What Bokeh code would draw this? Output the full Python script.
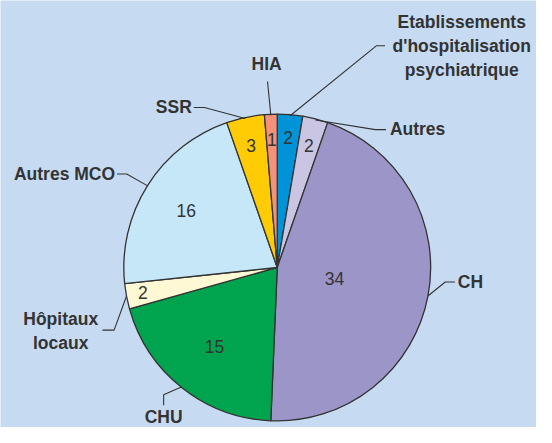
import numpy as np
from bokeh.plotting import figure
from bokeh.models import Range1d
from bokeh.core.properties import value
from bokeh.embed import file_html
from bokeh.resources import INLINE

# ---- data ----
categories = ["Etablissements d'hospitalisation psychiatrique", "Autres", "CH", "CHU",
              "Hôpitaux locaux", "Autres MCO", "SSR", "HIA"]
values = [2, 2, 34, 15, 2, 16, 3, 1]
label_lines = [["Etablissements", "d'hospitalisation", "psychiatrique"], ["Autres"], ["CH"], ["CHU"],
               ["Hôpitaux", "locaux"], ["Autres MCO"], ["SSR"], ["HIA"]]

# ---- style ----
colors = ["#0093D8", "#C9C5E2", "#9C95C8", "#00A44E", "#FFF8D5", "#C5E7F8", "#FFCB05", "#F39179"]
BG = "#C6DBF1"
INK = "#333333"
H = 443  # layout height; data y = H - layout y
cx, cy, R = 285, H - 277, 158
value_r = [135, 131, 60, 104, 141, 111, 129, 133]
# leader elbow / end points and label anchors (layout coords, y downwards)
leaders = [[(387, 47), (396, 47)], [(386, 134), (397, 134)], [(458, 292), (468, 292)],
           [(168, 409), (168, 420)], [(117, 342), (105, 342)], [(130, 180), (120, 180)],
           [(210, 111), (199, 111)], [(275, 84)]]
label_pos = [(475, 22, "center"), (401, 133, "left"), (471, 292, "left"), (168, 432, "center"),
             (62, 330, "center"), (118, 180, "right"), (197, 110, "right"), (274, 66, "center")]
LINE_H = 25
FS = "17.5px"

p = figure(width=536, height=427, output_backend="svg", toolbar_location=None,
           x_range=Range1d(0, 552), y_range=Range1d(0, 443),
           background_fill_color=BG, border_fill_color=BG, min_border=0)
p.axis.visible = False
p.grid.visible = False
p.outline_line_color = None

total = float(sum(values))
cum = np.concatenate([[0], np.cumsum(values)])
starts = np.pi / 2 - 2 * np.pi * cum[:-1] / total
ends = np.pi / 2 - 2 * np.pi * cum[1:] / total
mids = (starts + ends) / 2

p.wedge(x=cx, y=cy, radius=R, start_angle=list(starts), end_angle=list(ends), direction="clock",
        fill_color=colors, line_color=INK, line_width=1.3)

# value labels
vx = [cx + r * np.cos(a) for r, a in zip(value_r, mids)]
vy = [cy + r * np.sin(a) for r, a in zip(value_r, mids)]
p.text(x=vx, y=vy, text=[str(v) for v in values], text_align="center", text_baseline="middle",
       text_font=value("Liberation Sans"), text_font_size=FS, text_color=INK)

# leader lines
for a, pts in zip(mids, leaders):
    xs = [cx + R * np.cos(a)] + [q[0] for q in pts]
    ys = [cy + R * np.sin(a)] + [H - q[1] for q in pts]
    p.line(xs, ys, line_color=INK, line_width=1.1)

# category labels
for lines, (lx, ly, al) in zip(label_lines, label_pos):
    for k, t in enumerate(lines):
        p.text(x=[lx], y=[H - (ly + k * LINE_H)], text=[t], text_align=al, text_baseline="middle",
               text_font=value("Liberation Sans"), text_font_style="bold", text_font_size=FS,
               text_color=INK)

html = file_html(p, INLINE)
html = html.replace("<body>", '<body style="background-color:%s;">' % BG, 1)
open("out.html", "w").write(html)
